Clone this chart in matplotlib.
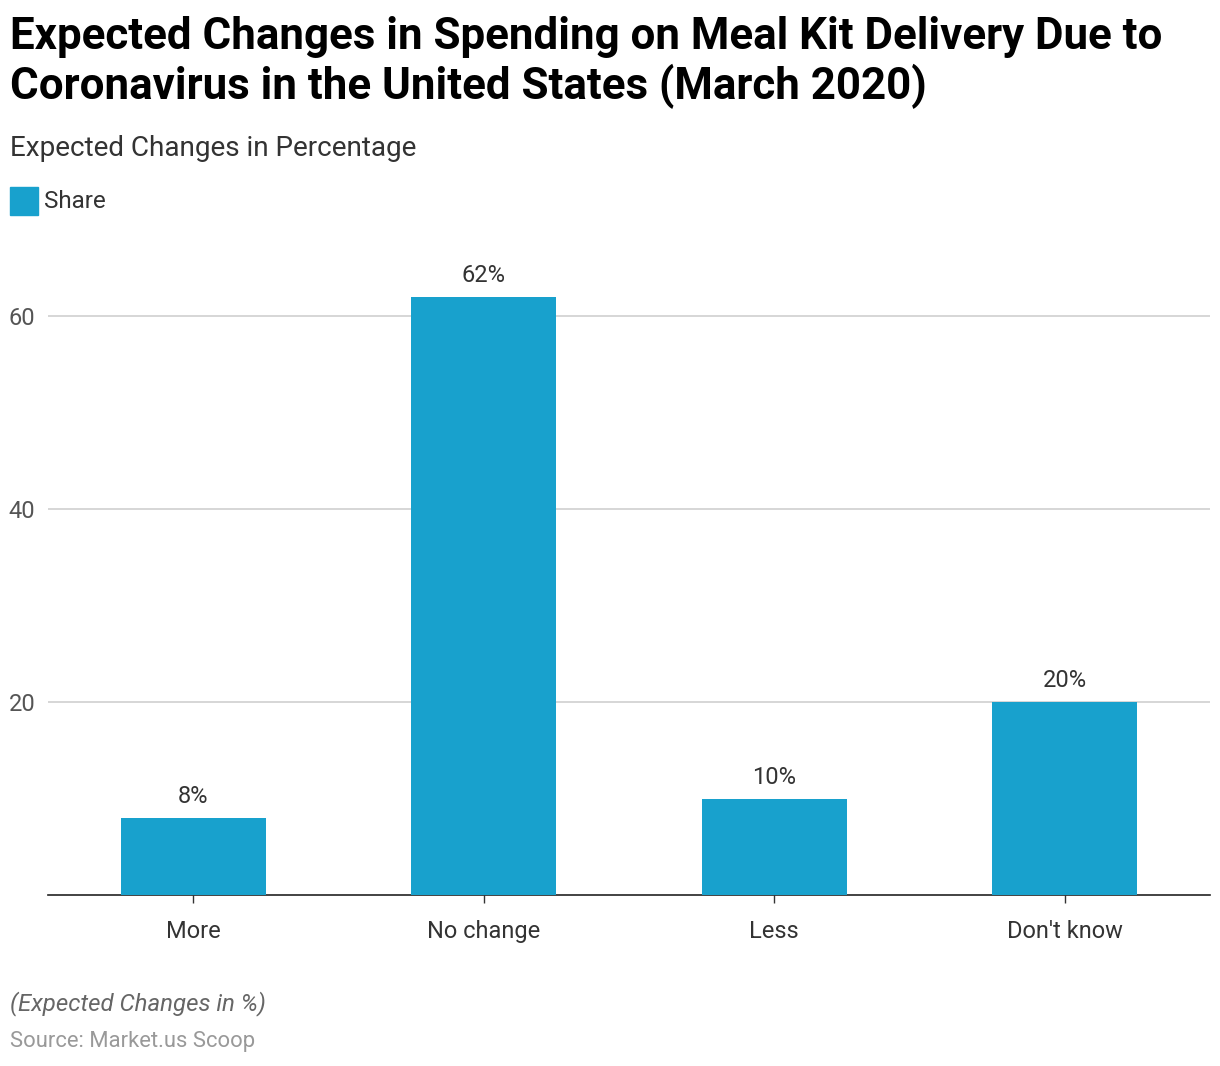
import numpy as np
import matplotlib
matplotlib.use("Agg")
from matplotlib import pyplot as plt
from matplotlib.patches import Rectangle

plt.rcParams['font.family'] = ['Roboto', 'DejaVu Sans']

categories = ['More', 'No change', 'Less', "Don't know"]
share = [8, 62, 10, 20]
yticks = [20, 40, 60]

bar_color = '#18a1cd'

fig = plt.figure(figsize=(12.2, 10.66), dpi=100)
ax = fig.add_axes([48/1220, 171/1066, 1162/1220, 627/1066])

x = np.arange(len(categories))
ax.bar(x, share, width=0.5, color=bar_color, zorder=3)
for xi, v in zip(x, share):
    ax.annotate(f'{v}%', (xi, v), xytext=(0, 7), textcoords='offset points',
                ha='center', va='bottom', fontsize=17, color='#333333')

ax.set_xlim(-0.5, 3.5)
ax.set_ylim(0, 65)
ax.set_yticks(yticks)
ax.set_yticklabels([str(t) for t in yticks])
ax.set_xticks(x)
ax.set_xticklabels(categories)
ax.grid(axis='y', color='#d0d0d0', linewidth=1.2, zorder=0)
ax.tick_params(axis='y', length=0, labelsize=17, labelcolor='#555555', pad=9)
ax.tick_params(axis='x', length=6, width=1, color='#333333', labelsize=17,
               labelcolor='#333333', pad=12)
for s in ['top', 'right', 'left']:
    ax.spines[s].set_visible(False)
ax.spines['bottom'].set_color('#222222')
ax.spines['bottom'].set_linewidth(1.2)

# title, two lines
fig.text(10/1220, 1 - 37/1066, 'Expected Changes in Spending on Meal Kit Delivery Due to',
         fontsize=31.6, fontweight='bold', color='#000000', ha='left', va='center')
fig.text(10/1220, 1 - 86/1066, 'Coronavirus in the United States (March 2020)',
         fontsize=31.6, fontweight='bold', color='#000000', ha='left', va='center')
fig.text(10/1220, 1 - 148/1066, 'Expected Changes in Percentage', fontsize=20.1,
         color='#333333', ha='left', va='center')
fig.patches.append(Rectangle((10/1220, 1 - 215/1066), 28/1220, 28/1066,
                             transform=fig.transFigure, color=bar_color))
fig.text(44/1220, 1 - 201/1066, 'Share', fontsize=17.5, color='#333333',
         ha='left', va='center')
fig.text(10/1220, 1 - 1004/1066, '(Expected Changes in %)', fontsize=17.3,
         style='italic', color='#666666', ha='left', va='center')
fig.text(10/1220, 1 - 1041/1066, 'Source: Market.us Scoop', fontsize=15.8,
         color='#999999', ha='left', va='center')

fig.savefig('out.png', dpi=100)
